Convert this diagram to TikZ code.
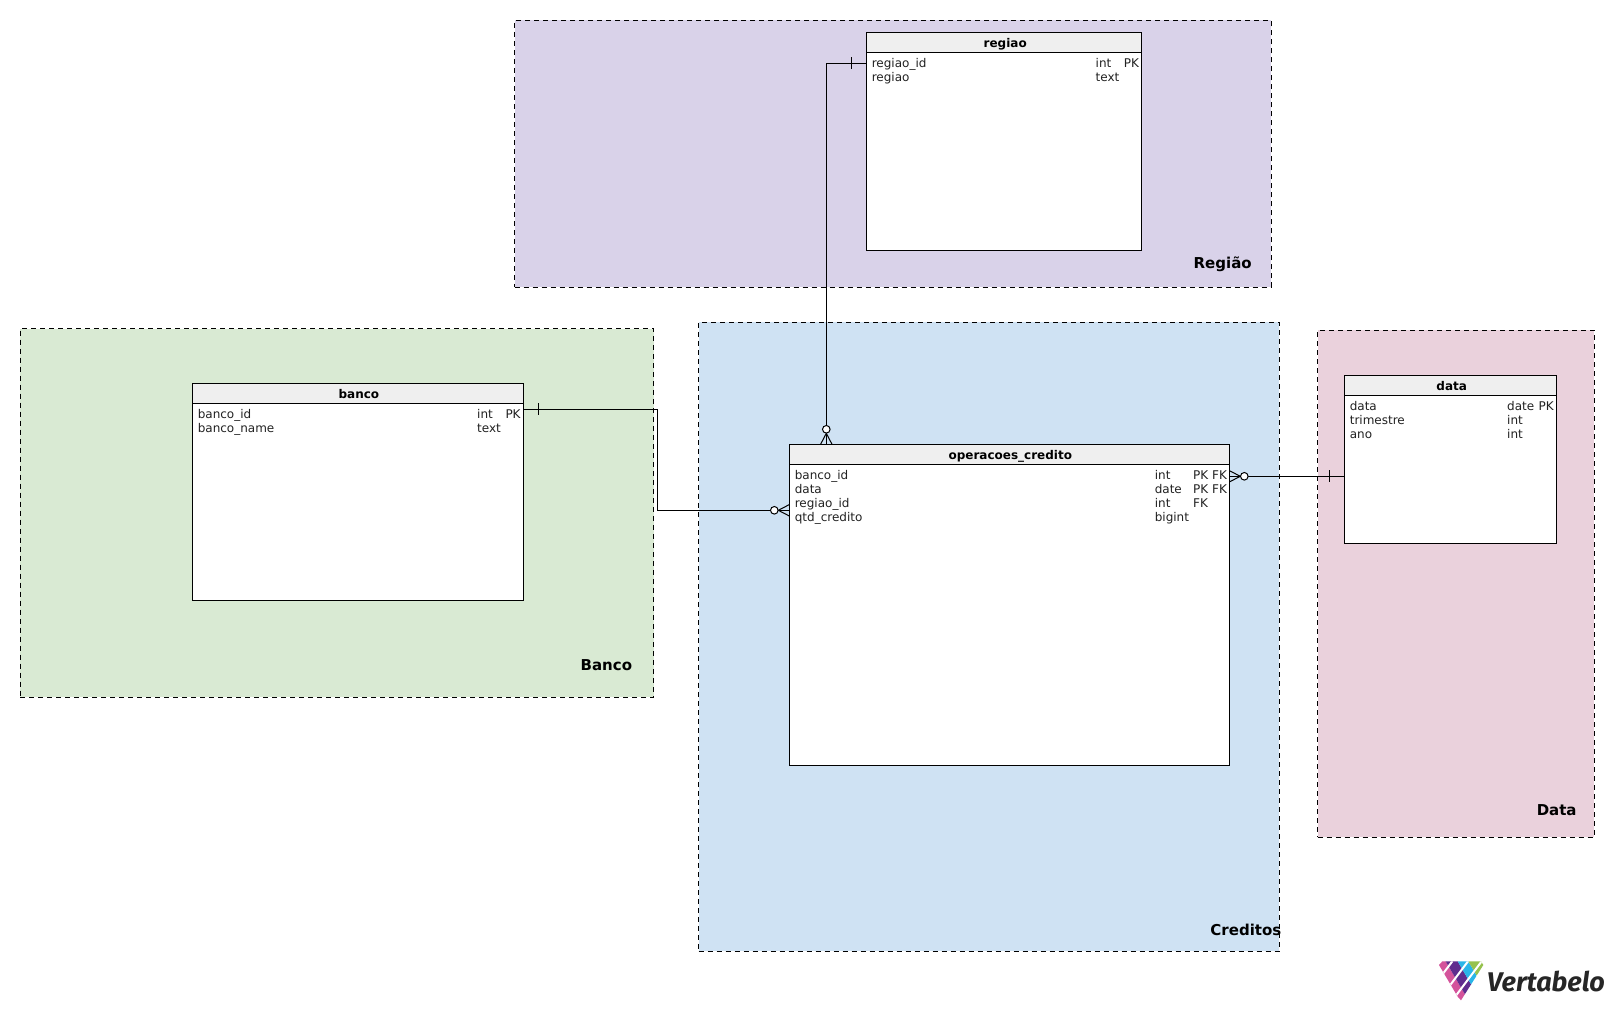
\documentclass[tikz,border=0pt]{standalone}
\usepackage{fontspec}
\setmainfont{DejaVu Sans}
\newfontfamily\logofont{Fira Sans}
\usetikzlibrary{calc}
\definecolor{regiaozone}{HTML}{D9D2E9}
\definecolor{bancozone}{HTML}{D9EAD3}
\definecolor{creditozone}{HTML}{CFE2F3}
\definecolor{datazone}{HTML}{EAD1DC}
\definecolor{headgray}{HTML}{EFEFEF}
\definecolor{rowink}{HTML}{222222}
\definecolor{logopink}{HTML}{D4539B}
\definecolor{logopurple}{HTML}{5F2C8E}
\definecolor{logocyan}{HTML}{29B5E8}
\definecolor{logogreen}{HTML}{96C24D}
\tikzset{
	zone/.style={draw=black, line width=0.9pt, dash pattern=on 5pt off 4pt, anchor=north west, inner sep=0pt, outer sep=0pt},
	zonelabel/.style={anchor=base east, inner sep=0pt, font=\fontsize{15}{18}\selectfont\bfseries},
	tablebox/.style={draw=black, fill=white, line width=1pt, anchor=north west, inner sep=0pt, outer sep=0pt},
	tablehead/.style={draw=black, fill=headgray, line width=1pt, anchor=north west, inner sep=0pt, outer sep=0pt, minimum height=20pt, text height=10.4pt, text depth=0.6pt, execute at begin node=\hspace*{2pt}, font=\fontsize{12}{14}\selectfont\bfseries},
	rowtext/.style={anchor=base west, inner sep=0pt, text=rowink, font=\fontsize{12}{14}\selectfont},
	conn/.style={draw=black, line width=1pt},
	pics/crowfoot/.style={code={
		\draw[line width=1pt] (0,0) -- (15,0);
		\draw[line width=1pt] (0,5.7) -- (11,0) -- (0,-5.7);
		\draw[line width=1pt, fill=white] (15,0) circle (3.8);
	}},
	pics/onetick/.style={code={
		\draw[line width=1pt] (0,-6) -- (0,6);
	}}
}
\begin{document}
\begin{tikzpicture}[x=1pt, y=-1pt]
	\useasboundingbox (0,0) rectangle (1614,1011);
	
	%% subject areas
	\node[zone, fill=regiaozone, minimum width=756.4pt, minimum height=266.7pt] (regiaoarea) at (514.6,20.3) {};
	\node[zone, fill=bancozone, minimum width=633.7pt, minimum height=368.5pt] (bancoarea) at (20,328.5) {};
	\node[zone, fill=creditozone, minimum width=580.6pt, minimum height=629pt] (creditoarea) at (698.7,322) {};
	\node[zone, fill=datazone, minimum width=276.6pt, minimum height=506.7pt] (dataarea) at (1317.7,330.3) {};
	
	\node[zonelabel] (regiaolabel) at (1251.9,268.8) {Região};
	\node[zonelabel] (bancolabel) at (632.3,670.3) {Banco};
	\node[zonelabel] (creditolabel) at (1281.5,935.2) {Creditos};
	\node[zonelabel] (datalabel) at (1576.8,815.2) {Data};
	
	%% tables
	\node[tablebox, minimum width=275pt, minimum height=217.7pt] (regiao) at (866.7,32.3) {};
	\node[tablehead, minimum width=275pt] (regiaohead) at (866.7,32.3) {regiao};
	\node[tablebox, minimum width=330.8pt, minimum height=216.7pt] (banco) at (192.5,383.3) {};
	\node[tablehead, minimum width=330.8pt] (bancohead) at (192.5,383.3) {banco};
	\node[tablebox, minimum width=440pt, minimum height=320.7pt] (operacoes) at (789.3,444.3) {};
	\node[tablehead, minimum width=440pt] (operacoeshead) at (789.3,444.3) {operacoes\_credito};
	\node[tablebox, minimum width=212pt, minimum height=167.8pt] (data) at (1344.7,375.7) {};
	\node[tablehead, minimum width=212pt] (datahead) at (1344.7,375.7) {data};
	
	%% columns
	\foreach \rowname/\rowtype [count=\i] in {regiao\_id/int, regiao/text}
	{
		\node[rowtext] (regiaoname\i) at (871.6,53.1+14*\i) {\rowname};
		\node[rowtext] (regiaotype\i) at (1095.5,53.1+14*\i) {\rowtype};
	}
	\foreach \rowname/\rowtype [count=\i] in {banco\_id/int, banco\_name/text}
	{
		\node[rowtext] (banconame\i) at (197.6,404.2+14*\i) {\rowname};
		\node[rowtext] (bancotype\i) at (477,404.2+14*\i) {\rowtype};
	}
	\foreach \rowname/\rowtype [count=\i] in {banco\_id/int, data/date, regiao\_id/int, qtd\_credito/bigint}
	{
		\node[rowtext] (operacoesname\i) at (794.6,465.1+14*\i) {\rowname};
		\node[rowtext] (operacoestype\i) at (1154.6,465.1+14*\i) {\rowtype};
	}
	\foreach \rowname/\rowtype [count=\i] in {data/date, trimestre/int, ano/int}
	{
		\node[rowtext] (dataname\i) at (1349.6,396.1+14*\i) {\rowname};
		\node[rowtext] (datatype\i) at (1507,396.1+14*\i) {\rowtype};
	}
	\node[rowtext] (regiaokey) at (1123.6,67.1) {PK};
	\node[rowtext] (bancokey) at (505.3,418.2) {PK};
	\node[rowtext] (datakey) at (1538.5,410.1) {PK};
	\node[rowtext] (operacoeskey1) at (1193,479.1) {PK};
	\node[rowtext] (operacoeskey2) at (1193,493.1) {PK};
	\node[rowtext] (operacoesfk1) at (1212,479.1) {FK};
	\node[rowtext] (operacoesfk2) at (1212,493.1) {FK};
	\node[rowtext] (operacoesfk3) at (1193,507.1) {FK};
	
	%% references
	\coordinate (bancoport) at ($(banco.north east)+(0,26)$);
	\coordinate (regiaoport) at ($(regiao.north west)+(0,31)$);
	\coordinate (dataport) at ($(data.north west)+(0,100.6)$);
	\coordinate (opleft) at ($(operacoes.north west)+(0,66)$);
	\coordinate (optop) at ($(operacoes.north west)+(37,0)$);
	\coordinate (opright) at ($(operacoes.north east)+(0,32)$);
	\coordinate (bancobend) at (657.3,409.3);
	
	\draw[conn] (bancoport) -- (bancobend) |- (opleft);
	\draw[conn] (regiaoport) -| (optop);
	\draw[conn] (dataport) -- (opright);
	
	\pic[rotate=180] at (opleft) {crowfoot};
	\pic[rotate=90] at (optop) {crowfoot};
	\pic at (opright) {crowfoot};
	\path (bancoport) ++(15,0) pic {onetick};
	\path (regiaoport) ++(-15,0) pic {onetick};
	\path (dataport) ++(-15.4,0) pic {onetick};
	
	%% logo
	\begin{scope}[shift={(1380,900)}, x=0.3333pt, y=-0.3333pt]
		\begin{scope}
			\clip (177,195) -- (187,184) -- (303,184) -- (310,195) -- (243,301) -- (233,290) -- cycle;
			\fill[logopink] (170,184) -- (197,184) -- (267,304) -- (170,304) -- cycle;
			\fill[logopurple] (197,184) -- (233,184) -- (303,304) -- (267,304) -- cycle;
			\fill[logocyan] (233,184) -- (265,184) -- (335,304) -- (303,304) -- cycle;
			\fill[logogreen] (265,184) -- (320,184) -- (320,304) -- (335,304) -- cycle;
			\draw[white, line width=2pt] (217,184) -- (177,237);
			\draw[white, line width=2pt] (264,184) -- (174,304);
			\draw[white, line width=2pt] (305,184) -- (215,304);
		\end{scope}
	\end{scope}
	\node[anchor=base west, inner sep=0pt, text=black!85, font=\logofont\fontsize{27}{30}\selectfont\itshape\bfseries] (logotext) at (1487,991) {Vertabelo};
\end{tikzpicture}
\end{document}
